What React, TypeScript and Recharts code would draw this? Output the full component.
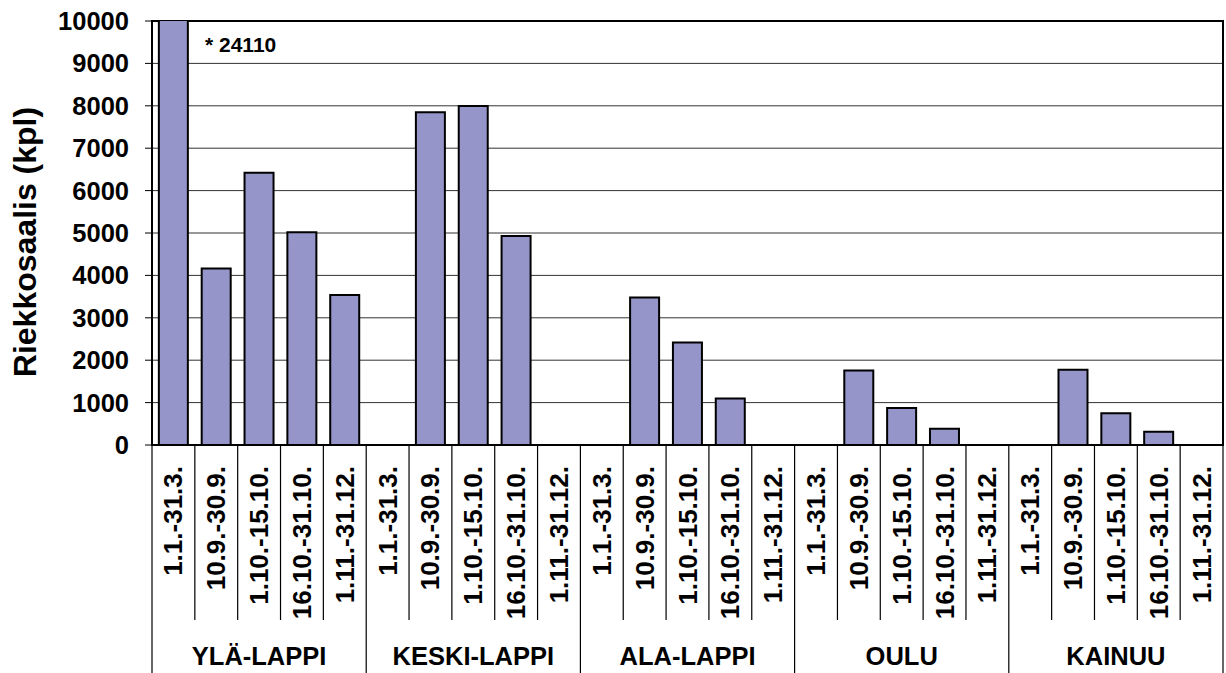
import React from 'react';
import { BarChart, Bar, XAxis, YAxis, CartesianGrid, ReferenceArea } from 'recharts';

const groups = ['YLÄ-LAPPI', 'KESKI-LAPPI', 'ALA-LAPPI', 'OULU', 'KAINUU'];
const periods = ['1.1.-31.3.', '10.9.-30.9.', '1.10.-15.10.', '16.10.-31.10.', '1.11.-31.12.'];
const ylaLappi = [24110, 4160, 6420, 5020, 3540];
const keskiLappi = [0, 7850, 7995, 4930, 0];
const alaLappi = [0, 3480, 2415, 1095, 0];
const oulu = [0, 1755, 875, 385, 0];
const kainuu = [0, 1775, 750, 310, 0];
const yTicks = [0, 1000, 2000, 3000, 4000, 5000, 6000, 7000, 8000, 9000, 10000];
const note = '* 24110';
const yLabel = 'Riekkosaalis (kpl)';

const seriesByGroup = [ylaLappi, keskiLappi, alaLappi, oulu, kainuu];
const data = groups.flatMap((g, gi) =>
  periods.map((p, pi) => ({ key: `${gi}-${pi}`, group: g, period: p, value: seriesByGroup[gi][pi] }))
);

const W = 1226;
const H = 673;
const LEFT = 152;
const RIGHT = 3;
const TOP = 21;
const PLOT_H = 424;
const AXIS_Y = TOP + PLOT_H;
const BAND = (W - LEFT - RIGHT) / data.length;
const FONT = 'Liberation Sans, Arial, sans-serif';

const XTick = (props: any) => {
  const { x, index } = props;
  const d = data[index];
  if (!d) return null;
  const half = BAND / 2;
  const pi = index % 5;
  const items: any[] = [];
  items.push(
    <line key="l" x1={x - half} x2={x - half} y1={AXIS_Y} y2={pi === 0 ? H : 620} stroke="#000" strokeWidth={1.2} />
  );
  if (index === data.length - 1) {
    items.push(<line key="r" x1={x + half} x2={x + half} y1={AXIS_Y} y2={H} stroke="#000" strokeWidth={1.2} />);
  }
  items.push(
    <text
      key="t"
      x={0}
      y={0}
      transform={`translate(${x + 9},${AXIS_Y + 21}) rotate(-90)`}
      textAnchor="end"
      fontFamily={FONT}
      fontWeight="bold"
      fontSize={26}
      fill="#000"
    >
      {d.period}
    </text>
  );
  if (pi === 2) {
    items.push(
      <text key="g" x={x} y={665} textAnchor="middle" fontFamily={FONT} fontWeight="bold" fontSize={25.5} fill="#000">
        {d.group}
      </text>
    );
  }
  return <g>{items}</g>;
};

const YTick = (props: any) => {
  const { y, payload } = props;
  return (
    <text x={129} y={y} dy={9} textAnchor="end" fontFamily={FONT} fontWeight="bold" fontSize={25.5} fill="#000">
      {payload.value}
    </text>
  );
};

export default function App() {
  return (
    <div style={{ position: 'absolute', left: 0, top: 0, width: W, height: H, background: '#fff' }}>
      <BarChart
        width={W}
        height={H}
        data={data}
        margin={{ top: TOP, right: RIGHT, left: 0, bottom: 0 }}
        barCategoryGap="16%"
      >
        <CartesianGrid vertical={false} stroke="#333" strokeWidth={1} />
        <XAxis
          dataKey="key"
          height={H - AXIS_Y}
          interval={0}
          tickLine={false}
          axisLine={{ stroke: '#000', strokeWidth: 1.5 }}
          tick={<XTick />}
        />
        <YAxis
          width={LEFT}
          domain={[0, 10000]}
          ticks={yTicks}
          allowDataOverflow
          interval={0}
          tickSize={7}
          tickLine={{ stroke: '#000' }}
          axisLine={{ stroke: '#000', strokeWidth: 1.5 }}
          tick={<YTick />}
          label={{
            value: yLabel,
            angle: -90,
            position: 'insideLeft',
            offset: 0,
            content: () => (
              <text
                transform={`translate(36,242) rotate(-90)`}
                textAnchor="middle"
                fontFamily={FONT}
                fontWeight="bold"
                fontSize={32}
                fill="#000"
              >
                {yLabel}
              </text>
            ),
          }}
        />
        <ReferenceArea y1={0} y2={10000} fill="none" stroke="#000" strokeWidth={2} ifOverflow="visible" />
        <Bar dataKey="value" fill="#9595C9" stroke="#000" strokeWidth={2} isAnimationActive={false} />
      </BarChart>
      <div
        style={{
          position: 'absolute',
          left: 205,
          top: 34,
          fontFamily: FONT,
          fontWeight: 'bold',
          fontSize: 21,
          lineHeight: '21px',
          color: '#000',
          whiteSpace: 'nowrap',
        }}
      >
        {note}
      </div>
    </div>
  );
}
